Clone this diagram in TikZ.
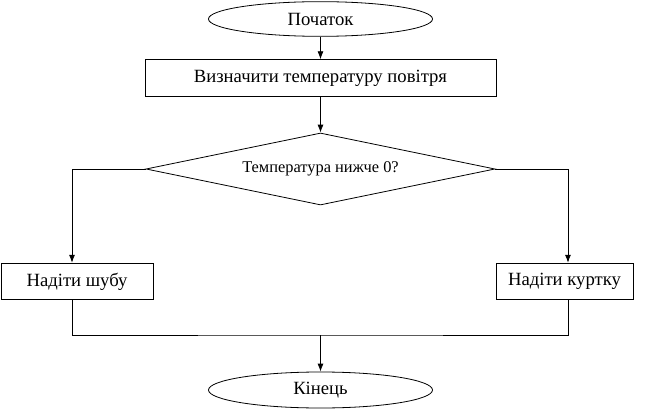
\documentclass[tikz,border=0pt]{standalone}
\usepackage{fontspec}
\setmainfont{Liberation Serif}
\usetikzlibrary{arrows.meta,shapes.geometric,positioning}

\begin{document}
\begin{tikzpicture}[x=0.75pt,y=-0.75pt,>={Latex[length=6pt,width=4.5pt]},line width=0.6pt,
  term/.style={draw,ellipse,inner sep=0pt,minimum width=168pt,minimum height=26pt,font=\fontsize{14}{16}\selectfont},
  act/.style={draw,rectangle,inner sep=0pt,minimum height=27.5pt,font=\fontsize{14}{16}\selectfont},
  cond/.style={draw,diamond,aspect=4.85,inner sep=0pt,minimum width=261.75pt,minimum height=54pt,font=\fontsize{12.3}{14}\selectfont}]
\useasboundingbox (0,0) rectangle (650,410);
\node[term] (start) at (320.5,19) {Початок};
\node[act,minimum width=263.25pt] (air) at (320.5,78) {Визначити температуру повітря};
\node[cond] (test) at (320.5,169) {Температура нижче 0?};
\node[act,minimum width=114pt] (coat) at (77,281.5) {Надіти шубу};
\node[act,minimum width=102.75pt] (jacket) at (564.5,281.5) {Надіти куртку};
\node[term,minimum height=27pt] (end) at (320.5,390) {Кінець};
\coordinate (merge) at (320.5,335);
\draw[->] (start) -- (air);
\draw[->] (air) -- (test);
\draw[->] (test.west) -| ([xshift=-3.75pt]coat.north);
\draw[->] (test.east) -| ([xshift=2.6pt]jacket.north);
\draw ([xshift=-3.75pt]coat.south) |- (merge) -| ([xshift=2.6pt]jacket.south);
\draw[->] (merge) -- (end);
\end{tikzpicture}
\end{document}
